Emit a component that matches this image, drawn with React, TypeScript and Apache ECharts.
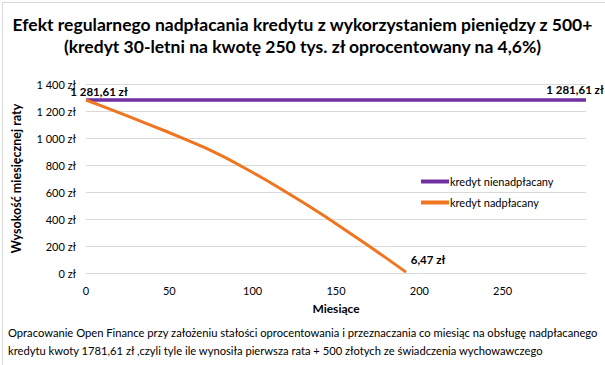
import React, { useEffect, useRef } from "react";
import * as echarts from "echarts";

const titleLines = [
  "Efekt regularnego nadpłacania kredytu z wykorzystaniem pieniędzy z 500+",
  "(kredyt 30-letni na kwotę 250 tys. zł oprocentowany na 4,6%)",
];
const footerLines = [
  "Opracowanie Open Finance przy założeniu stałości oprocentowania i przeznaczania co miesiąc na obsługę nadpłacanego",
  "kredytu kwoty 1781,61 zł ,czyli tyle ile wynosiła pierwsza rata + 500 złotych ze świadczenia wychowawczego",
];
const seriesNames = ["kredyt nienadpłacany", "kredyt nadpłacany"];
const flatMonths = [0, 300];
const flatValues = [1281.61, 1281.61];
const paidMonths = [0, 12, 24, 36, 48, 60, 72, 84, 96, 108, 120, 132, 144, 156, 168, 180, 192];
const paidValues = [1281.61, 1225, 1168, 1108, 1050, 988, 925, 853, 772, 689, 600, 509, 414, 314, 214, 112, 6.47];

const FONT = "Lato, 'Open Sans', sans-serif";

function pln(v: number, decimals: number): string {
  const fixed = v.toFixed(decimals);
  const [intPart, dec] = fixed.split(".");
  const withSpaces = intPart.replace(/\B(?=(\d{3})+(?!\d))/g, " ");
  return (dec ? withSpaces + "," + dec : withSpaces) + " zł";
}

export default function App() {
  const ref = useRef<HTMLDivElement>(null);
  useEffect(() => {
    if (!ref.current) return;
    const chart = echarts.init(ref.current, undefined, { renderer: "svg" });
    const lastFlat = flatMonths.length - 1;
    const lastPaid = paidMonths.length - 1;
    chart.setOption({
      animation: false,
      backgroundColor: "#fff",
      title: {
        text: titleLines.join("\n"),
        left: "center",
        top: 8,
        textStyle: {
          fontFamily: FONT,
          fontWeight: "bold",
          fontSize: 17.5,
          lineHeight: 22,
          color: "#000",
        },
      },
      grid: { left: 86, right: 19, top: 84, bottom: 92 },
      legend: {
        orient: "vertical",
        left: 416,
        top: 171,
        itemWidth: 28,
        itemHeight: 4,
        itemGap: 10,
        icon: "rect",
        data: seriesNames,
        textStyle: { fontFamily: FONT, fontSize: 11, color: "#000", padding: [0, 0, 0, -4] },
      },
      xAxis: {
        type: "value",
        min: 0,
        max: 300,
        interval: 50,
        name: "Miesiące",
        nameLocation: "middle",
        nameGap: 29,
        nameTextStyle: { fontFamily: FONT, fontWeight: "bold", fontSize: 12, color: "#000" },
        axisLine: { show: false },
        axisTick: { show: false },
        splitLine: { show: false },
        axisLabel: {
          fontFamily: FONT,
          fontSize: 11,
          color: "#000",
          margin: 12,
          formatter: (v: number) => (v >= 300 ? "" : String(v)),
        },
      },
      yAxis: {
        type: "value",
        min: 0,
        max: 1400,
        interval: 200,
        name: "Wysokość miesięcznej raty",
        nameLocation: "middle",
        nameGap: 63,
        nameTextStyle: { fontFamily: FONT, fontWeight: "bold", fontSize: 12.5, color: "#000" },
        axisLine: { show: false },
        axisTick: { show: false },
        splitLine: { lineStyle: { color: "#d9d9d9", width: 1 } },
        axisLabel: {
          fontFamily: FONT,
          fontSize: 11,
          color: "#000",
          margin: 10,
          formatter: (v: number) => pln(v, 0),
        },
      },
      series: [
        {
          name: seriesNames[0],
          type: "line",
          data: flatMonths.map((m, i) => [m, flatValues[i]]),
          showSymbol: false,
          symbol: "none",
          lineStyle: { color: "#7030A0", width: 3.5 },
          itemStyle: { color: "#7030A0" },
        },
        {
          name: seriesNames[1],
          type: "line",
          data: paidMonths.map((m, i) => [m, paidValues[i]]),
          smooth: false,
          showSymbol: false,
          symbol: "none",
          lineStyle: { color: "#F07520", width: 3 },
          itemStyle: { color: "#F07520" },
        },
      ],
    });

    const labelPoints: { pt: [number, number]; dx: number; dy: number }[] = [
      { pt: [flatMonths[0], flatValues[0]], dx: 13, dy: -2 },
      { pt: [flatMonths[lastFlat], flatValues[lastFlat]], dx: -11, dy: -4 },
      { pt: [paidMonths[lastPaid], paidValues[lastPaid]], dx: 22, dy: -7 },
    ];
    const labelGraphics = labelPoints.map((lp) => {
      const px = chart.convertToPixel({ gridIndex: 0 }, lp.pt) as number[];
      return {
        type: "text",
        x: px[0] + lp.dx,
        y: px[1] + lp.dy,
        z: 10,
        style: {
          text: pln(lp.pt[1], 2),
          fontFamily: FONT,
          fontWeight: "bold",
          fontSize: 11.5,
          fill: "#000",
          align: "center",
          verticalAlign: "bottom",
        },
      };
    });

    chart.setOption({
      graphic: [
        {
          type: "rect",
          left: 0,
          top: 0,
          shape: { x: 0, y: 0, width: 604, height: 364 },
          style: { fill: "none", stroke: "#d9d9d9", lineWidth: 1 },
          silent: true,
        },
        ...footerLines.map((t, i) => ({
          type: "text",
          left: 8,
          top: 327 + i * 18,
          style: { text: t, fontFamily: FONT, fontSize: 11.2, fill: "#000" },
        })),
        ...labelGraphics,
      ],
    });
    return () => chart.dispose();
  }, []);
  return (
    <div
      ref={ref}
      style={{ position: "fixed", left: 0, top: 0, width: 605, height: 365 }}
    />
  );
}
